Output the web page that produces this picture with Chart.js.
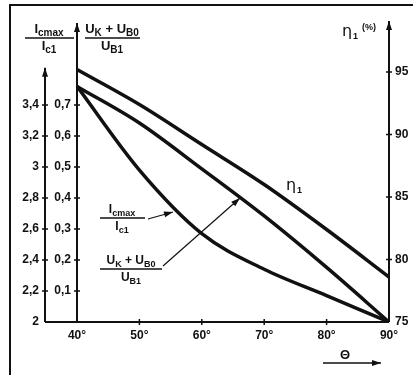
<!DOCTYPE html>
<html>
<head>
<meta charset="utf-8">
<script src="https://cdn.jsdelivr.net/npm/chart.js@4.4.1/dist/chart.umd.min.js"></script>
<style>
body{margin:0;background:#fff;}
</style>
</head>
<body>
<canvas id="myChart" width="413" height="375"></canvas>
<script>
// 곡선 데이터 (40°~90°)
var theta = [40, 50, 60, 70, 80, 90];
var etaValues = [95.2, 92.4, 89.2, 86.0, 82.4, 78.6];
var uValues = [0.76, 0.642, 0.494, 0.342, 0.176, 0.0];
var iValues = [3.52, 2.98, 2.57, 2.34, 2.17, 2.0];

// 눈금
var thetaTicks = [40, 50, 60, 70, 80, 90];
var iTicks = [2, 2.2, 2.4, 2.6, 2.8, 3, 3.2, 3.4];
var uTicks = [0.1, 0.2, 0.3, 0.4, 0.5, 0.6, 0.7];
var etaTicks = [75, 80, 85, 90, 95];

var INK = '#111';
var FONT = 'Liberation Sans';

function toPoints(vals){
	return theta.map(function(t, i){ return {x: t, y: vals[i]}; });
}

function comma(v){
	return String(v).replace('.', ',');
}

//아래첨자 텍스트
function richWidth(ctx, parts, size){
	var w = 0;
	parts.forEach(function(p){
		ctx.font = 'bold ' + (p[1] ? size - 3 : size) + 'px ' + FONT;
		w += ctx.measureText(p[0]).width;
	});
	return w;
}
function drawRich(ctx, parts, x, y, size){
	parts.forEach(function(p){
		ctx.font = 'bold ' + (p[1] ? size - 3 : size) + 'px ' + FONT;
		ctx.fillText(p[0], x, p[1] ? y + 3 : y);
		x += ctx.measureText(p[0]).width;
	});
}
function fraction(ctx, cx, barY, x1, x2, num, den, size){
	ctx.textAlign = 'left';
	ctx.textBaseline = 'alphabetic';
	drawRich(ctx, num, cx - richWidth(ctx, num, size) / 2, barY - 5, size);
	drawRich(ctx, den, cx - richWidth(ctx, den, size) / 2, barY + 12, size);
	ctx.lineWidth = 1.5;
	ctx.beginPath();
	ctx.moveTo(x1, barY);
	ctx.lineTo(x2, barY);
	ctx.stroke();
}
function arrowHead(ctx, x1, y1, x2, y2, len, wid){
	var a = Math.atan2(y2 - y1, x2 - x1);
	ctx.beginPath();
	ctx.moveTo(x2, y2);
	ctx.lineTo(x2 - len * Math.cos(a) + wid * Math.sin(a), y2 - len * Math.sin(a) - wid * Math.cos(a));
	ctx.lineTo(x2 - len * Math.cos(a) - wid * Math.sin(a), y2 - len * Math.sin(a) + wid * Math.cos(a));
	ctx.closePath();
	ctx.fill();
}
function arrowLine(ctx, x1, y1, x2, y2, w){
	ctx.lineWidth = w;
	ctx.beginPath();
	ctx.moveTo(x1, y1);
	ctx.lineTo(x2, y2);
	ctx.stroke();
	arrowHead(ctx, x1, y1, x2, y2, 9, 3);
}

var numI = [['I', 0], ['cmax', 1]];
var denI = [['I', 0], ['c1', 1]];
var numU = [['U', 0], ['K', 1], [' + ', 0], ['U', 0], ['B0', 1]];
var denU = [['U', 0], ['B1', 1]];

//축, 눈금표시, 글자
var deco = {
	id: 'deco',
	afterDraw: function(chart){
		var ctx = chart.ctx;
		var s = chart.scales;
		var area = chart.chartArea;
		var xo = s.yOuter.right;
		ctx.save();
		ctx.strokeStyle = INK;
		ctx.fillStyle = INK;
		ctx.lineCap = 'butt';

		//테두리
		ctx.lineWidth = 2;
		ctx.beginPath();
		ctx.moveTo(10, 375);
		ctx.lineTo(10, 5);
		ctx.lineTo(413, 5);
		ctx.stroke();

		//축
		var topOuter = s.yOuter.getPixelForValue(3.64);
		arrowLine(ctx, xo, area.bottom, xo, topOuter, 2);
		arrowLine(ctx, area.left, area.bottom, area.left, area.top + 1, 2);
		arrowLine(ctx, area.right, area.bottom, area.right, area.top - 1, 2);
		ctx.lineWidth = 2;
		ctx.beginPath();
		ctx.moveTo(xo, area.bottom);
		ctx.lineTo(area.right, area.bottom);
		ctx.stroke();

		//눈금 +
		ctx.lineWidth = 1.5;
		ctx.beginPath();
		iTicks.slice(1).forEach(function(v){
			var y = s.yOuter.getPixelForValue(v);
			ctx.moveTo(xo - 3, y); ctx.lineTo(xo + 3, y);
		});
		uTicks.forEach(function(v){
			var y = s.yInner.getPixelForValue(v);
			ctx.moveTo(area.left - 3, y); ctx.lineTo(area.left + 3, y);
		});
		etaTicks.slice(1).forEach(function(v){
			var y = s.yEta.getPixelForValue(v);
			ctx.moveTo(area.right - 3, y); ctx.lineTo(area.right + 3, y);
		});
		thetaTicks.slice(1, -1).forEach(function(v){
			var x = s.x.getPixelForValue(v);
			ctx.moveTo(x, area.bottom - 3); ctx.lineTo(x, area.bottom + 3);
		});
		ctx.stroke();

		//축 제목
		fraction(ctx, 49, 38, 25, 74, numI, denI, 13);
		fraction(ctx, 112, 38, 85, 140, numU, denU, 13);
		ctx.textAlign = 'left';
		ctx.font = '16px "DejaVu Sans"';
		ctx.fillText('η', 342, 36);
		ctx.font = 'bold 9px ' + FONT;
		ctx.fillText('1', 353, 39);
		ctx.fillText('(%)', 362, 30);

		//곡선 이름
		ctx.font = '16px "DejaVu Sans"';
		ctx.fillText('η', 286, 190);
		ctx.font = 'bold 9px ' + FONT;
		ctx.fillText('1', 297, 193);

		fraction(ctx, 122, 218, 100, 145, numI, denI, 12);
		arrowLine(ctx, 148, 219, 173, 212, 1.2);
		fraction(ctx, 131, 269, 100, 162, numU, denU, 12);
		arrowLine(ctx, 163, 266, 240, 198, 1.2);

		// Θ
		ctx.font = 'bold 13px ' + FONT;
		ctx.textAlign = 'center';
		ctx.fillText('Θ', 345, 359);
		arrowLine(ctx, 323, 363, 381, 363, 1.5);
		ctx.restore();
	}
};

var lineStyle = {
	borderColor: INK,
	borderWidth: 3.5,
	pointRadius: 0,
	fill: false,
	cubicInterpolationMode: 'monotone'
};

Chart.defaults.font.family = FONT;
Chart.defaults.font.size = 12;
Chart.defaults.font.weight = 'bold';
Chart.defaults.color = INK;

function axisBase(min, max, ticks, pos, weight, size, pad, cb){
	return {
		type: 'linear',
		position: pos,
		weight: weight,
		min: min,
		max: max,
		grid: {display: false, drawTicks: false},
		border: {display: false},
		afterBuildTicks: function(axis){
			axis.ticks = ticks.map(function(v){ return {value: v}; });
		},
		afterFit: function(axis){
			if(pos == 'bottom') axis.height = size;
			else axis.width = size;
		},
		ticks: {padding: pad, callback: cb}
	};
}

var ctx1 = document.getElementById('myChart');
var myChart = new Chart(ctx1, {
	type: 'line',
	data: {
		datasets: [
			Object.assign({label: 'η1', data: toPoints(etaValues), yAxisID: 'yEta'}, lineStyle),
			Object.assign({label: 'UK+UB0/UB1', data: toPoints(uValues), yAxisID: 'yInner'}, lineStyle),
			Object.assign({label: 'Icmax/Ic1', data: toPoints(iValues), yAxisID: 'yOuter'}, lineStyle)
		]
	},
	options: {
		responsive: false,
		animation: false,
		devicePixelRatio: 1,
		layout: {padding: {left: 0, right: 0, top: 22, bottom: 0}},
		plugins: {legend: {display: false}, tooltip: {enabled: false}},
		scales: {
			x: axisBase(40, 90, thetaTicks, 'bottom', 0, 53, 6, function(v){ return v + '°'; }),
			yOuter: axisBase(2, 2 + 300 / 155, iTicks, 'left', 10, 45, 6, function(v){ return comma(v); }),
			yInner: axisBase(0, 300 / 310, uTicks, 'left', 0, 32, 6, function(v){ return comma(v); }),
			yEta: axisBase(75, 99, etaTicks, 'right', 0, 24, 6, function(v){ return v; })
		}
	},
	plugins: [deco]
});
</script>
</body>
</html>
